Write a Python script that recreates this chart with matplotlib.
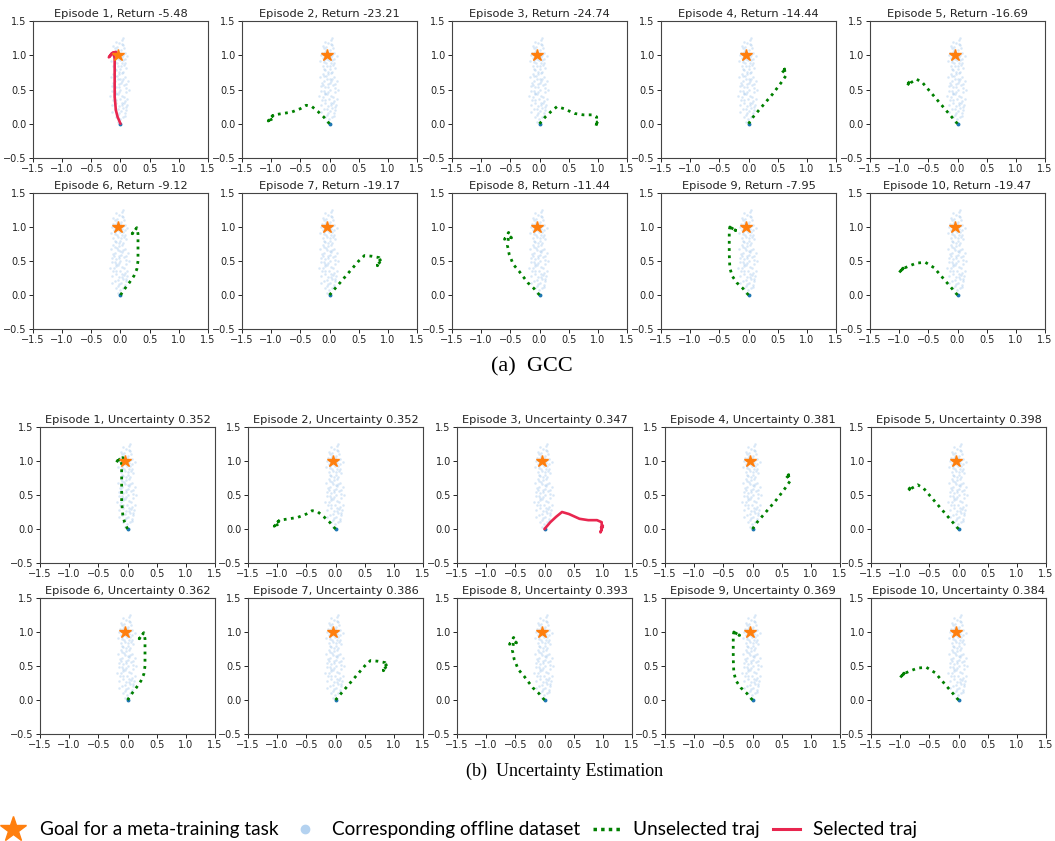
import matplotlib.pyplot as plt
from matplotlib.lines import Line2D
import numpy as np

# ---------------------------------------------
#   DATA
# ---------------------------------------------

goal = (-0.05, 1.0)

returns = [-5.48, -23.21, -24.74, -14.44, -16.69, -9.12, -19.17, -11.44, -7.95, -19.47]
uncertainty = [0.352, 0.352, 0.347, 0.381, 0.398, 0.362, 0.386, 0.393, 0.369, 0.384]
selected_gcc = 0     # episode 1 picked by GCC
selected_unc = 2     # episode 3 picked by uncertainty

# offline dataset points (roughly)
cloud_x = [-0.05, -0.02, -0.08, 0.01, -0.11, 0.04, -0.06, -0.03, 0.06, -0.13,
           -0.01, -0.09, 0.03, -0.04, 0.07, -0.12, 0.00, -0.07, 0.05, -0.02,
           -0.10, 0.08, -0.05, 0.02, -0.13, -0.03, 0.06, -0.08, 0.00, -0.15,
           0.09, -0.05, 0.03, -0.11, -0.01, 0.07, -0.07, 0.11, -0.03, 0.04,
           -0.09, 0.01, 0.08, -0.04, 0.05, -0.01, 0.02, -0.07, 0.04, -0.10,
           0.08, -0.15, -0.04, 0.02, -0.06, 0.06, -0.10, 0.02, -0.06, 0.04,
           -0.09, 0.01, -0.14, 0.10, -0.02, -0.08, 0.06, -0.13, 0.02, -0.05,
           0.09, -0.02, 0.12, -0.16, 0.10, -0.01, -0.03, 0.00, -0.06, -0.09,
           -0.12, 0.05, -0.17, 0.13, -0.07, 0.03, -0.14, 0.07, -0.04, 0.10,
           -0.18, 0.00, -0.10, 0.12, -0.06, 0.04, -0.12, 0.08, -0.02, -0.08,
           0.14, -0.11, 0.01, -0.15, 0.06, -0.03, 0.09, -0.09, 0.03, -0.07]
cloud_y = [1.02, 0.98, 1.05, 1.08, 0.96, 1.01, 1.12, 1.18, 1.10, 1.04,
           0.93, 0.90, 0.88, 0.85, 0.95, 0.84, 0.80, 0.78, 0.76, 0.72,
           0.70, 0.68, 0.66, 0.63, 0.60, 0.58, 0.56, 0.53, 0.50, 0.48,
           0.46, 0.44, 0.41, 0.39, 0.36, 0.33, 0.31, 0.28, 0.26, 0.23,
           0.21, 0.18, 0.15, 0.13, 0.10, 0.07, 1.22, 1.20, 1.15, 1.10,
           1.03, 1.00, 0.95, 0.97, 0.88, 0.86, 0.80, 0.74, 0.69, 0.66,
           0.62, 0.59, 0.55, 0.52, 0.47, 0.43, 0.39, 0.35, 0.31, 0.22,
           0.20, 0.16, 0.36, 0.68, 0.82, 1.04, 1.01, 1.00, 0.99, 1.00,
           1.13, 1.25, 0.91, 0.62, 0.45, 0.27, 0.17, 0.12, 0.03, 0.24,
           0.40, 0.65, 0.93, 0.99, 1.07, 0.93, 0.73, 0.88, 0.54, 0.10,
           0.50, 0.57, 0.84, 0.28, 0.30, 0.76, 0.58, 0.48, 1.16, 0.35]

# rollout trajectories, one per episode
traj_x = [
    [0, -0.05, -0.08, -0.10, -0.10, -0.10, -0.12, -0.20, -0.15, -0.08, -0.05],
    [0, -0.10, -0.20, -0.30, -0.40, -0.50, -0.65, -0.80, -0.95, -1.00, -1.05, -0.97, -1.03, -0.98],
    [0, 0.10, 0.20, 0.30, 0.42, 0.60, 0.75, 0.90, 0.98, 0.98, 0.96, 1.00, 0.97, 1.00],
    [0, 0.08, 0.16, 0.25, 0.33, 0.41, 0.49, 0.56, 0.64, 0.62, 0.58, 0.62, 0.57, 0.60],
    [0, -0.10, -0.20, -0.35, -0.50, -0.60, -0.70, -0.80, -0.86, -0.80, -0.86, -0.82],
    [0, 0.08, 0.15, 0.23, 0.28, 0.30, 0.30, 0.30, 0.28, 0.20, 0.27],
    [0, 0.10, 0.20, 0.35, 0.50, 0.60, 0.73, 0.85, 0.88, 0.83, 0.87, 0.82, 0.85],
    [0, -0.10, -0.20, -0.35, -0.45, -0.52, -0.55, -0.53, -0.60, -0.53, -0.48, -0.55],
    [0, -0.10, -0.20, -0.28, -0.32, -0.33, -0.33, -0.33, -0.32, -0.22, -0.30, -0.26],
    [0, -0.10, -0.20, -0.30, -0.40, -0.55, -0.70, -0.85, -0.95, -1.00, -0.90, -0.98, -0.93],
]
traj_y = [
    [0, 0.10, 0.20, 0.40, 0.70, 0.95, 1.04, 0.97, 1.03, 1.05, 1.00],
    [0, 0.10, 0.18, 0.25, 0.27, 0.22, 0.17, 0.15, 0.13, 0.10, 0.04, 0.12, 0.05, 0.07],
    [0, 0.10, 0.18, 0.25, 0.22, 0.15, 0.13, 0.13, 0.10, 0.00, -0.05, 0.05, 0.02, 0.03],
    [0, 0.10, 0.18, 0.27, 0.35, 0.43, 0.52, 0.60, 0.70, 0.78, 0.75, 0.80, 0.74, 0.77],
    [0, 0.10, 0.20, 0.35, 0.50, 0.60, 0.65, 0.60, 0.56, 0.63, 0.58, 0.60],
    [0, 0.10, 0.18, 0.28, 0.38, 0.50, 0.70, 0.90, 0.99, 0.90, 0.98],
    [0, 0.10, 0.20, 0.35, 0.50, 0.58, 0.57, 0.55, 0.50, 0.45, 0.52, 0.43, 0.48],
    [0, 0.10, 0.18, 0.35, 0.45, 0.60, 0.73, 0.85, 0.82, 0.92, 0.84, 0.90],
    [0, 0.10, 0.18, 0.28, 0.40, 0.60, 0.80, 0.95, 1.00, 0.95, 0.99, 0.97],
    [0, 0.10, 0.20, 0.30, 0.40, 0.48, 0.47, 0.42, 0.38, 0.33, 0.42, 0.35, 0.40],
]

# ---------------------------------------------
#   STYLE / LAYOUT
# ---------------------------------------------

CLOUD_C = '#7fb2e5'
GOAL_C = '#ff7f0e'
UNSEL_C = 'green'
SEL_C = '#e8264f'

W, H = 1055, 841
rows_a = [(21, 158), (193, 329)]
rows_b = [(427, 563), (598, 734)]
cols_a = [33, 242, 452, 661, 870]
cols_b = [40, 248, 457, 665, 871]
AX_W = 175


def draw_episode(ax, i, title, selected):
    ax.plot(cloud_x, cloud_y, 'o', ms=1.8, color=CLOUD_C, alpha=0.3, mec='none')
    ax.plot(0, 0, 'o', ms=1.8, color='#1f77b4')
    if selected:
        ax.plot(traj_x[i], traj_y[i], '-', color=SEL_C, lw=1.9,
                solid_joinstyle='round', solid_capstyle='round')
    else:
        ax.plot(traj_x[i], traj_y[i], color=UNSEL_C, lw=2.0,
                linestyle=(0, (1, 1.6)))
    ax.plot(*goal, '*', ms=9, color=GOAL_C, mec=GOAL_C)
    ax.set_xlim(-1.5, 1.5)
    ax.set_ylim(-0.5, 1.5)
    ax.set_xticks(np.arange(-1.5, 1.51, 0.5))
    ax.set_yticks(np.arange(-0.5, 1.51, 0.5))
    ax.tick_params(labelsize=7, length=3, width=0.7, pad=1.5, colors='#222222')
    for s in ax.spines.values():
        s.set_linewidth(0.8)
        s.set_color('#444444')
    ax.set_title(title, fontsize=8.2, pad=3, color='#222222')


fig = plt.figure(figsize=(W / 100, H / 100), dpi=100)

for rows, cols, sel, kind in [(rows_a, cols_a, selected_gcc, 'a'),
                              (rows_b, cols_b, selected_unc, 'b')]:
    for r, (top, bot) in enumerate(rows):
        for c, left in enumerate(cols):
            i = r * 5 + c
            ax = fig.add_axes([left / W, 1 - bot / H, AX_W / W, (bot - top) / H])
            if kind == 'a':
                title = f'Episode {i+1}, Return {returns[i]:.2f}'
            else:
                title = f'Episode {i+1}, Uncertainty {uncertainty[i]:.3f}'
            draw_episode(ax, i, title, i == sel)

fig.text(532 / W, 1 - 367 / H, '(a)  GCC', ha='center', va='center',
         family='Liberation Serif', fontsize=16)
fig.text(565 / W, 1 - 771 / H, '(b)  Uncertainty Estimation', ha='center', va='center',
         family='Liberation Serif', fontsize=13)

handles = [
    Line2D([], [], ls='none', marker='*', ms=19, color=GOAL_C),
    Line2D([], [], ls='none', marker='o', ms=6, color='#b4d2f0'),
    Line2D([], [], color=UNSEL_C, lw=2.5, linestyle=(0, (1, 1.2))),
    Line2D([], [], color=SEL_C, lw=2.2),
]
labels = ['Goal for a meta-training task', 'Corresponding offline dataset',
          'Unselected traj', 'Selected traj']
fig.legend(handles, labels, loc='lower left', bbox_to_anchor=(0.0, 0.003), ncol=4,
           frameon=False, prop={'family': 'Lato', 'size': 13.7},
           borderpad=0, borderaxespad=0,
           handlelength=1.4, handletextpad=0.7, columnspacing=0.7)

fig.savefig('out.png', dpi=100)
